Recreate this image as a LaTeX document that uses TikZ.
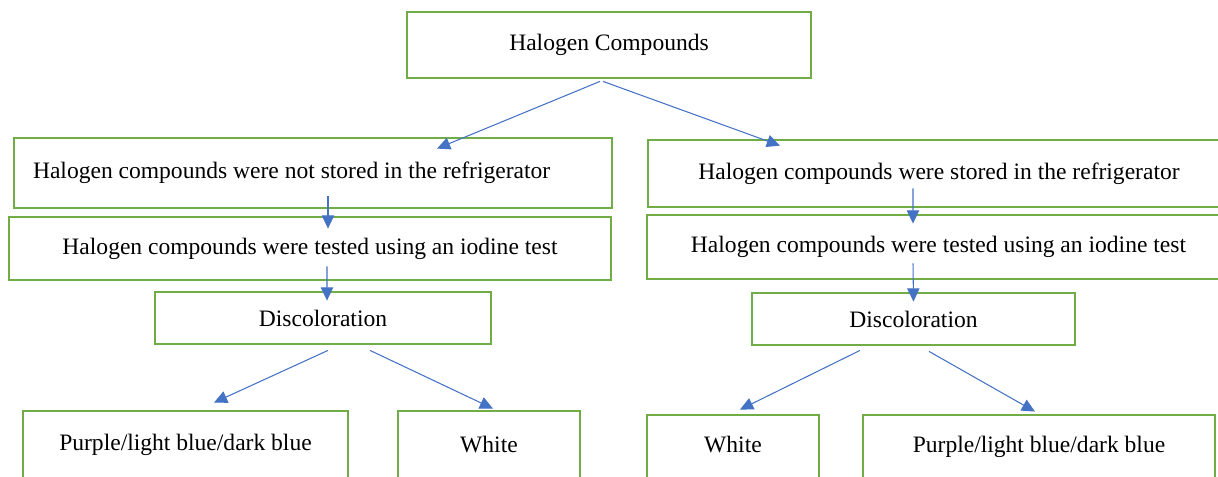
\documentclass[tikz,border=0pt]{standalone}
\usepackage{fontspec}
\setmainfont{Liberation Serif}
\usetikzlibrary{arrows.meta}
\definecolor{boxgreen}{HTML}{70AD47}
\definecolor{arrowblue}{HTML}{4472C4}
\tikzset{
	greenbox/.style={draw=boxgreen, line width=1.6pt, rectangle, inner sep=0pt,
		font=\fontsize{13.4}{16}\selectfont},
	bluearrow/.style={draw=arrowblue, line width=0.6pt,
		-{Triangle[length=7.5pt,width=7pt]}, arrowblue}
}

\begin{document}
\begin{tikzpicture}
			%%%%% START %%%%%
			
			\useasboundingbox (0, 0) rectangle (24.36, 9.52);
			\clip (0, 0) rectangle (24.36, 9.52);
			
			\node[greenbox, minimum width=8.08cm, minimum height=1.32cm] (top) at (12.18, 8.62) {Halogen Compounds};
			
			\node[greenbox, minimum width=11.96cm, minimum height=1.40cm, text width=11.2cm, align=flush left, inner xsep=0.38cm] (L1) at (6.26, 6.06) {Halogen compounds were not stored in the refrigerator};
			\node[greenbox, minimum width=11.64cm, minimum height=1.34cm] (R1) at (18.78, 6.05) {Halogen compounds were stored in the refrigerator};
			
			\node[greenbox, minimum width=12.04cm, minimum height=1.26cm] (L2) at (6.20, 4.55) {Halogen compounds were tested using an iodine test};
			\node[greenbox, minimum width=11.66cm, minimum height=1.28cm] (R2) at (18.77, 4.58) {\raisebox{0.12cm}{Halogen compounds were tested using an iodine test}};
			
			\node[greenbox, minimum width=6.72cm, minimum height=1.04cm] (L3) at (6.46, 3.16) {Discoloration};
			\node[greenbox, minimum width=6.46cm, minimum height=1.04cm] (R3) at (18.27, 3.14) {Discoloration};
			
			\node[greenbox, minimum width=6.5cm, minimum height=1.34cm] (L4a) at (3.71, 0.63) {Purple/light blue/dark blue};
			\node[greenbox, minimum width=3.64cm, minimum height=1.34cm] (L4b) at (9.78, 0.63) {White};
			\node[greenbox, minimum width=3.44cm, minimum height=1.26cm] (R4a) at (14.66, 0.59) {\raisebox{0.08cm}{White}};
			\node[greenbox, minimum width=7.04cm, minimum height=1.26cm] (R4b) at (20.78, 0.59) {\raisebox{0.08cm}{Purple/light blue/dark blue}};
			
			\draw[bluearrow] ([shift={(-0.18,-0.04)}]top.south) -- ([shift={(2.48,-0.24)}]L1.north);
			\draw[bluearrow] ([shift={(-0.12,-0.04)}]top.south) -- ([shift={(-3.18,-0.14)}]R1.north);
			
			\draw[bluearrow] ([shift={(0.30,0.26)}]L1.south) -- ([shift={(0.36,-0.26)}]L2.north);
			\draw[bluearrow] ([shift={(0.34,0.30)}]L2.south) -- ([shift={(0.08,-0.20)}]L3.north);
			
			\draw[bluearrow] ([shift={(-0.52,0.40)}]R1.south) -- ([shift={(-0.51,-0.20)}]R2.north);
			\draw[bluearrow] ([shift={(-0.51,0.34)}]R2.south) -- ([shift={(0,-0.20)}]R3.north);
			
			\draw[bluearrow] ([shift={(0.10,-0.10)}]L3.south) -- ([shift={(0.57,0.14)}]L4a.north);
			\draw[bluearrow] ([shift={(0.94,-0.10)}]L3.south) -- ([shift={(0.08,0.02)}]L4b.north);
			
			\draw[bluearrow] ([shift={(-1.07,-0.08)}]R3.south) -- ([shift={(0.14,0.08)}]R4a.north);
			\draw[bluearrow] ([shift={(0.31,-0.10)}]R3.south) -- ([shift={(-0.08,0.04)}]R4b.north);
			
			%%%%% END %%%%%
\end{tikzpicture}
\end{document}
